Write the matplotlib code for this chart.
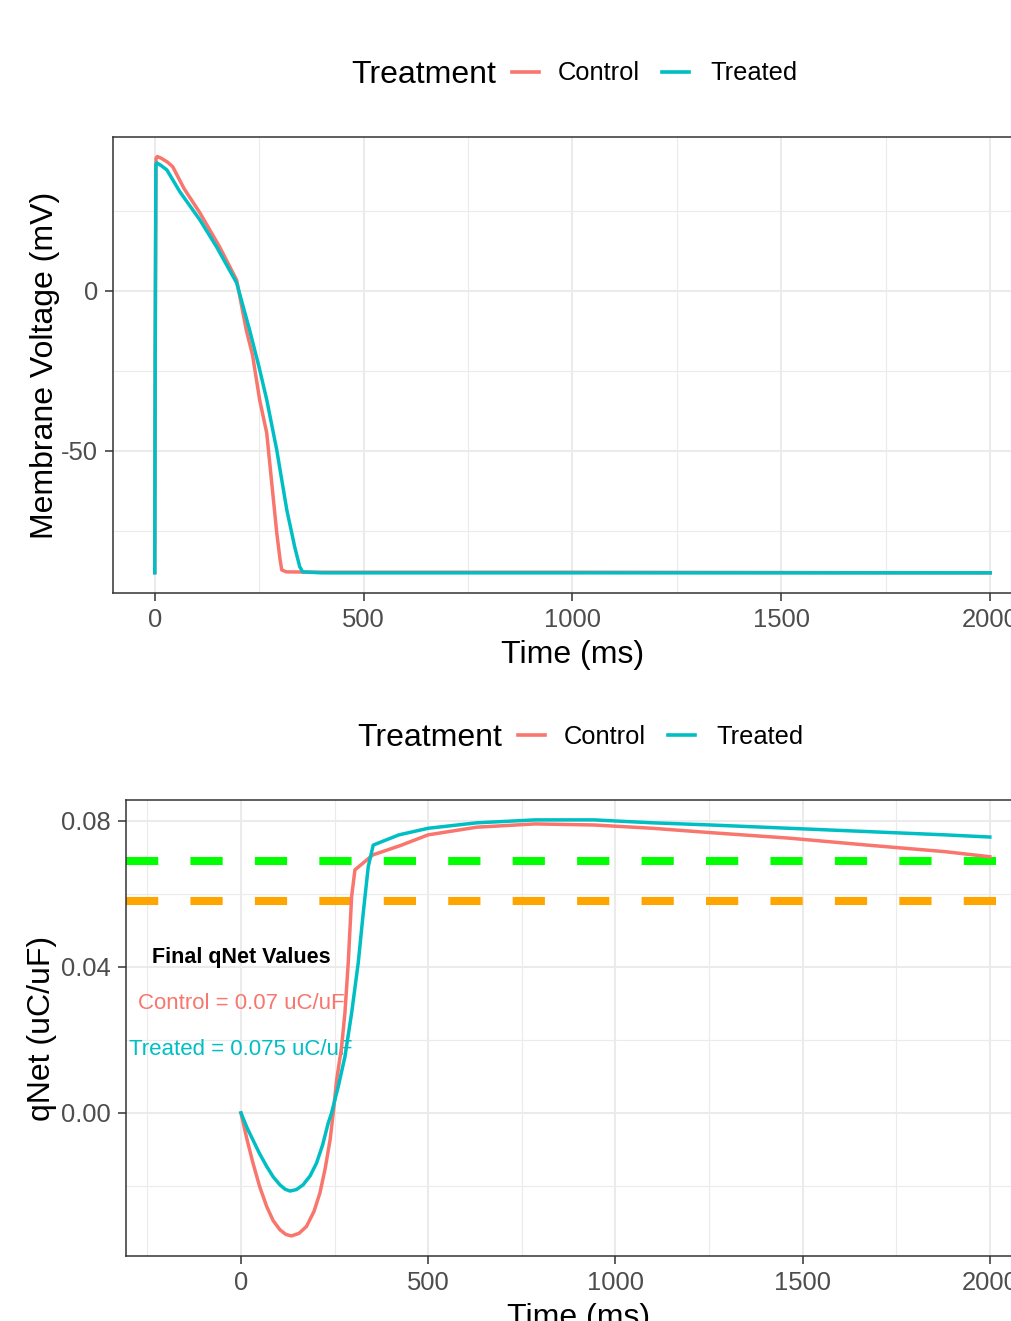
import matplotlib
matplotlib.use("Agg")
import matplotlib.pyplot as plt
from matplotlib.lines import Line2D
from matplotlib.ticker import MultipleLocator, FormatStrFormatter

plt.rcParams['font.family'] = ['Liberation Sans', 'DejaVu Sans']
plt.rcParams['axes.unicode_minus'] = False

# ---- data ----
t_v_control = [0, 1, 3, 6, 15, 30, 43, 70, 108, 155, 196, 219, 234, 251, 268, 280,
               292, 300, 304, 315, 400, 1000, 1500, 2000]
v_control = [-88.0, -20.0, 41.5, 42.0, 41.5, 40.3, 38.8, 32.0, 24.4, 13.8, 3.4, -12.2,
             -20.0, -34.0, -44.4, -60.0, -75.6, -84.0, -87.2, -87.8, -87.9, -87.9, -88.0, -88.1]

t_v_treated = [0, 1, 2.5, 5, 15, 29, 60, 108, 148, 196, 227, 250, 268, 292, 316, 335,
               347, 354, 400, 1000, 1500, 2000]
v_treated = [-88.1, -20.0, 39.5, 40.0, 39.2, 37.8, 31.0, 22.2, 13.75, 2.5, -12.2, -24.0,
             -34.0, -49.7, -68.4, -80.0, -86.2, -87.8, -88.1, -88.1, -88.1, -88.1]

t_q_control = [0, 16, 32, 50, 69, 86, 104, 120, 135, 155, 175, 195, 211, 225, 238, 246.5,
               255.5, 268.9, 277.7, 286.5, 295.6, 304.4, 330, 352, 424, 500, 630, 786, 943,
               1099, 1255, 1464, 1672, 1880, 2000]
q_control = [0, -0.0072, -0.0137, -0.0202, -0.0257, -0.0295, -0.0320, -0.0333, -0.0337,
             -0.0330, -0.0311, -0.0270, -0.0219, -0.0152, -0.0074, 0.0, 0.0090, 0.0182,
             0.0274, 0.0411, 0.0593, 0.0666, 0.0688, 0.0707, 0.0732, 0.0762, 0.0783, 0.0792,
             0.0789, 0.0780, 0.0768, 0.0753, 0.0734, 0.0716, 0.0702]

t_q_treated = [0, 16, 32, 50, 69, 86, 104, 118, 131, 148, 166, 185, 202, 218, 233, 242,
               259.8, 277.7, 295.6, 313.2, 326.6, 340, 353.3, 422, 500, 630, 786, 943, 1099,
               1255, 1464, 1672, 1880, 2000]
q_treated = [0, -0.0040, -0.0074, -0.0112, -0.0147, -0.0175, -0.0197, -0.0209, -0.0214,
             -0.0210, -0.0197, -0.0172, -0.0137, -0.0088, -0.0028, 0.0, 0.0072, 0.0154,
             0.0274, 0.0411, 0.0548, 0.0675, 0.0734, 0.0762, 0.0780, 0.0795, 0.0803, 0.0803,
             0.0795, 0.0789, 0.0780, 0.0771, 0.0762, 0.0756]

threshold_high = 0.0689
threshold_low = 0.0581
final_control = 0.07
final_treated = 0.075

series_names = ["Control", "Treated"]
series_colors = ["#F8766D", "#00BFC4"]

W, H = 1012, 1321
fig = plt.figure(figsize=(W / 100, H / 100), dpi=100)


def px_box(left, top, right, bottom):
    return [left / W, 1 - bottom / H, (right - left) / W, (bottom - top) / H]


def style_axes(ax):
    ax.set_facecolor("white")
    for s in ax.spines.values():
        s.set_color("#333333")
        s.set_linewidth(1.1)
    ax.grid(which="major", color="#EBEBEB", linewidth=1.5, zorder=0)
    ax.grid(which="minor", color="#EBEBEB", linewidth=0.8, zorder=0)
    ax.set_axisbelow(True)
    ax.tick_params(which="major", length=5.8, width=1.1, color="#333333",
                   labelsize=18.4, labelcolor="#4D4D4D", pad=5)
    ax.tick_params(which="minor", length=0)
    ax.xaxis.set_major_locator(MultipleLocator(500))
    ax.xaxis.set_minor_locator(MultipleLocator(250))


def legend_row(y_base, dx):
    fig.text((351 + dx) / W, 1 - (y_base + 2.5) / H, "Treatment", fontsize=23, va="baseline")
    keys = [(512, 558), (662, 710)]
    for (kx, tx), name, col in zip(keys, series_names, series_colors):
        yk = 1 - (y_base - 9) / H
        fig.add_artist(Line2D([(kx + dx) / W, (kx + 27 + dx) / W], [yk, yk],
                              color=col, lw=2.6, transform=fig.transFigure))
        fig.text((tx + dx) / W, 1 - y_base / H, name, fontsize=18.4, va="baseline")


# ---- top panel: membrane voltage ----
ax1 = fig.add_axes(px_box(113, 137, 1032, 593))
style_axes(ax1)
ax1.plot(t_v_control, v_control, color=series_colors[0], lw=2.5, zorder=3)
ax1.plot(t_v_treated, v_treated, color=series_colors[1], lw=2.5, zorder=4)
ax1.set_xlim(-100, 2100)
ax1.set_ylim(-94.4, 48.1)
ax1.yaxis.set_major_locator(MultipleLocator(50))
ax1.yaxis.set_minor_locator(MultipleLocator(25))
ax1.set_xlabel("Time (ms)", fontsize=23, labelpad=6)
ax1.set_ylabel("Membrane Voltage (mV)", fontsize=23, labelpad=1)
legend_row(80.5, 0)

# ---- bottom panel: qNet ----
ax2 = fig.add_axes(px_box(126, 800, 1031, 1256))
style_axes(ax2)
ax2.axhline(threshold_high, color="#00FF00", lw=5.8, linestyle=(0, (4, 4)), zorder=2)
ax2.axhline(threshold_low, color="#FFA500", lw=5.8, linestyle=(0, (4, 4)), zorder=2)
ax2.plot(t_q_control, q_control, color=series_colors[0], lw=2.5, zorder=3)
ax2.plot(t_q_treated, q_treated, color=series_colors[1], lw=2.5, zorder=4)
ax2.text(0, 0.0425, "Final qNet Values", fontsize=15.5, fontweight="bold",
         ha="center", va="center", zorder=2.5)
ax2.text(0, 0.0301, f"Control = {final_control} uC/uF", fontsize=16, color=series_colors[0],
         ha="center", va="center", zorder=2.5)
ax2.text(0, 0.0175, f"Treated = {final_treated} uC/uF", fontsize=16, color=series_colors[1],
         ha="center", va="center", zorder=2.5)
ax2.set_xlim(-307, 2110)
ax2.set_ylim(-0.0392, 0.08575)
ax2.yaxis.set_major_locator(MultipleLocator(0.04))
ax2.yaxis.set_minor_locator(MultipleLocator(0.02))
ax2.yaxis.set_major_formatter(FormatStrFormatter("%.2f"))
ax2.set_xlabel("Time (ms)", fontsize=23, labelpad=6)
ax2.set_ylabel("qNet (uC/uF)", fontsize=23, labelpad=3)
legend_row(80.5 + 663, 6)

fig.savefig("out.png", dpi=100, facecolor="white")
